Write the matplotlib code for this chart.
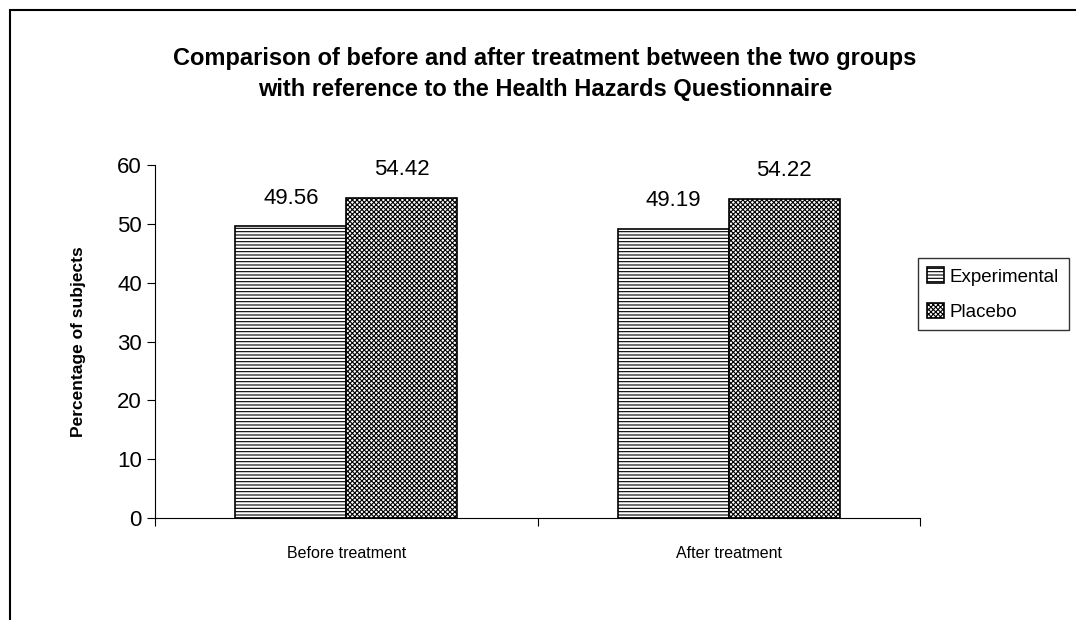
import numpy as np
import matplotlib
matplotlib.use("Agg")
import matplotlib.pyplot as plt
from matplotlib.patches import Rectangle

plt.rcParams['font.family'] = ['Liberation Sans', 'DejaVu Sans']
plt.rcParams['hatch.linewidth'] = 0.8

categories = ["Before treatment", "After treatment"]
experimental = [49.56, 49.19]
placebo = [54.42, 54.22]
series_names = ["Experimental", "Placebo"]

fig = plt.figure(figsize=(10.76, 6.2), dpi=100)
ax = fig.add_axes([155 / 1076, 1 - 518 / 620, 765 / 1076, 353 / 620])

x = np.arange(len(categories))
w = 0.29
b1 = ax.bar(x - w / 2, experimental, w, color="white", edgecolor="black",
            hatch="-----", linewidth=1.2, label=series_names[0])
b2 = ax.bar(x + w / 2, placebo, w, color="white", edgecolor="black",
            hatch="xxxxxxx", linewidth=1.2, label=series_names[1])

for bars, vals in ((b1, experimental), (b2, placebo)):
    for r, v in zip(bars, vals):
        ax.text(r.get_x() + r.get_width() / 2, v + 3.0, f"{v:.2f}",
                ha="center", va="bottom", fontsize=16)

ax.set_xlim(-0.5, 1.5)
ax.set_ylim(0, 60)
ax.set_yticks(range(0, 61, 10))
ax.tick_params(axis="y", labelsize=16, length=6, direction="out")
ax.set_xticks([-0.5, 0.5, 1.5])
ax.set_xticklabels([])
ax.set_xticks(x, minor=True)
ax.set_xticklabels(categories, minor=True, fontsize=11.5)
ax.tick_params(axis="x", which="major", length=6, direction="out")
ax.tick_params(axis="x", which="minor", length=0, pad=20)
for s in ("top", "right"):
    ax.spines[s].set_visible(False)
ax.set_ylabel("Percentage of subjects", fontsize=12.5, fontweight="bold", labelpad=22)

fig.text(545 / 1076, 1 - 74 / 620,
         "Comparison of before and after treatment between the two groups\n"
         "with reference to the Health Hazards Questionnaire",
         ha="center", va="center", fontsize=17, fontweight="bold", linespacing=1.45)

leg = fig.legend(loc="upper left", bbox_to_anchor=(918 / 1076, 1 - 258 / 620),
                 frameon=True, fancybox=False, edgecolor="black", fontsize=13.5,
                 handlelength=0.9, handleheight=0.9, handletextpad=0.3,
                 borderpad=0.5, labelspacing=0.9, borderaxespad=0.0)
leg.get_frame().set_linewidth(1.0)

fig.patches.append(Rectangle((10 / 1076, -0.01), 1.1, 1 - 10 / 620 + 0.01,
                             transform=fig.transFigure,
                             fill=False, edgecolor="black", linewidth=1.5))

fig.savefig("out.png", dpi=100)
